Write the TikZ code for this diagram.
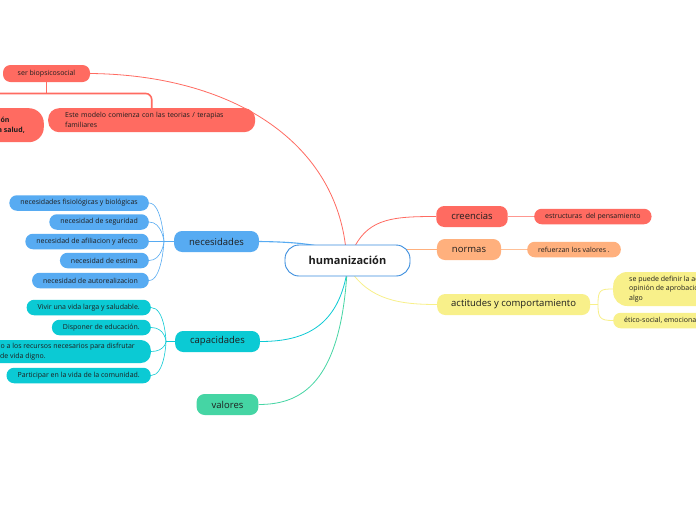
\documentclass[tikz,border=0pt]{standalone}
\usepackage{fontspec}
\setmainfont{Open Sans}
\usetikzlibrary{backgrounds,calc}
\definecolor{cred}{HTML}{FF6B61}
\definecolor{cblue}{HTML}{57ABF2}
\definecolor{ccyan}{HTML}{0BCAD4}
\definecolor{cgreen}{HTML}{45D5A4}
\definecolor{corange}{HTML}{FFB07D}
\definecolor{cyellow}{HTML}{F8F08A}
\definecolor{cborder}{HTML}{3A8DDE}
\definecolor{ctext}{HTML}{1E1E1E}
\tikzset{
  topic/.style={rounded corners=8pt, minimum height=21pt, inner xsep=15pt, inner ysep=2pt,
    text=ctext, font=\fontsize{9.5}{11}\selectfont},
  leaf/.style={rounded corners=7.5pt, minimum height=15.5pt, inner xsep=11pt, inner ysep=2pt,
    text=ctext, font=\fontsize{7}{9}\selectfont},
  link/.style={line width=0.8pt},
}
\begin{document}
\begin{tikzpicture}[x=1pt,y=-1pt]
\useasboundingbox (0,0) rectangle (696,520);

% central
\node[draw=cborder, line width=0.9pt, fill=white, rounded corners=14pt, minimum width=125pt,
  minimum height=31pt, font=\fontsize{11}{13}\selectfont\bfseries, text=ctext] (c) at (347.5,260.5) {humanización};

% right side
\node[topic, fill=cred, minimum width=70pt] (cre) at (472,216.5) {creencias};
\node[leaf, fill=cred, anchor=west] (est) at (534,216.5) {estructuras\ \ del pensamiento};
\node[topic, fill=corange, minimum width=64pt] (nor) at (469,249.5) {normas};
\node[leaf, fill=corange, anchor=west] (ref) at (527,249.5) {refuerzan los valores .};
\node[topic, fill=cyellow, anchor=west, inner xsep=14pt] (act) at (437,304.5) {actitudes y comportamiento};
\node[leaf, fill=cyellow, anchor=west, align=left, inner xsep=16pt, minimum height=34pt, rounded corners=14pt,
  font=\fontsize{7}{9.5}\selectfont] (sp) at (613,289)
  {se puede definir la actitud como una\\opinión de aprobación o desaprobación hacia\\algo};
\node[leaf, fill=cyellow, anchor=west] (eti) at (613,320.5) {ético-social, emocional};

% left: necesidades
\node[topic, fill=cblue, minimum width=83pt] (nec) at (216.5,241.5) {necesidades};
\node[leaf, fill=cblue, anchor=east] (n1) at (149,203) {necesidades fisiológicas y biológicas};
\node[leaf, fill=cblue, anchor=east] (n2) at (149,222) {necesidad de seguridad};
\node[leaf, fill=cblue, anchor=east] (n3) at (149,241.5) {necesidad de afiliacion y afecto};
\node[leaf, fill=cblue, anchor=east] (n4) at (149,260.5) {necesidad de estima};
\node[leaf, fill=cblue, anchor=east] (n5) at (149,280.5) {necesidad de autorealizacion};

% capacidades
\node[topic, fill=ccyan, minimum width=81pt] (cap) at (217.5,341.5) {capacidades};
\node[leaf, fill=ccyan, anchor=east] (k1) at (151,307.5) {Vivir una vida larga y saludable.};
\node[leaf, fill=ccyan, anchor=east] (k2) at (151,327.5) {Disponer de educación.};
\node[leaf, fill=ccyan, anchor=east, align=left, minimum height=23pt, inner xsep=16pt, rounded corners=10pt,
  font=\fontsize{7}{9.5}\selectfont] (k3) at (151,351.5)
  {Tener acceso a los recursos necesarios para disfrutar\\de un nivel de vida digno.};
\node[leaf, fill=ccyan, anchor=east] (k4) at (151,375.5) {Participar en la vida de la comunidad.};

% valores
\node[topic, fill=cgreen, minimum width=61pt] (val) at (227.5,404.5) {valores};

% top-left
\node[leaf, fill=cred, minimum width=87pt, minimum height=17pt] (ser) at (46.5,73.5) {ser biopsicosocial};
\node[leaf, fill=cred, anchor=north west, align=left, text width=173pt, inner xsep=17pt, inner ysep=4pt,
  minimum height=24pt, rounded corners=11pt, font=\fontsize{7}{10}\selectfont] (este) at (48,108)
  {Este modelo comienza con las teorias / terapias\\familiares};
\node[leaf, fill=cred, anchor=north east, align=left, inner xsep=19pt, minimum height=34pt, rounded corners=15pt,
  font=\fontsize{7}{10}\selectfont\bfseries] (lft) at (44,108)
  {relación\\con la salud,};

\begin{scope}[on background layer]
  \fill[white] (0,0) rectangle (696,520);
  % central links
  \draw[link, cred] (346,250) .. controls (335,140) and (230,75) .. (ser.east);
  \draw[link, cred] (355,246) .. controls (370,218) and (395,216.5) .. (cre.west);
  \draw[link, cred!70] (cre.east) -- (est.west);
  \draw[link, corange] (400,249.5) -- (nor.west);
  \draw[link, corange!80] (nor.east) -- (ref.west);
  \draw[link, cyellow] (350,270) .. controls (370,300) and (400,304.5) .. (act.west);
  \draw[link, cyellow] (act.east) -- (598,304.5);
  \draw[link, cyellow] (598,304.5) .. controls (598,290) and (600,289) .. (sp.west);
  \draw[link, cyellow] (598,304.5) .. controls (598,318) and (600,320.5) .. (eti.west);
  \draw[link, cblue, line width=1.1pt] (nec.east) .. controls (300,242) and (320,245) .. (340,252);
  \draw[link, ccyan] (347,272) .. controls (337,330) and (300,341.5) .. (cap.east);
  \draw[link, cgreen] (347,272) .. controls (340,385) and (300,404.5) .. (val.east);
  % necesidades children
  \draw[link, cblue] (nec.west) -- (164,241.5);
  \foreach \n in {n1,n2,n3,n4,n5}
    \draw[cblue, line width=0.6pt] (\n.east) .. controls +(13,0) and +(0,0) .. (164,241.5);
  % capacidades children
  \draw[link, ccyan] (cap.west) -- (166,341.5);
  \foreach \n in {k1,k2,k3,k4}
    \draw[ccyan, line width=0.6pt] (\n.east) .. controls +(14,0) and +(0,0) .. (166,341.5);
  % ser children
  \draw[cred, line width=1.6pt] (ser.south) -- (46.5,93.5);
  \draw[cred, line width=1.6pt, rounded corners=6pt] ($(lft.north west)+(12,0)$) -- ($(lft.north west)+(12,-14.5)$) -| (este.north);
\end{scope}
\end{tikzpicture}
\end{document}
